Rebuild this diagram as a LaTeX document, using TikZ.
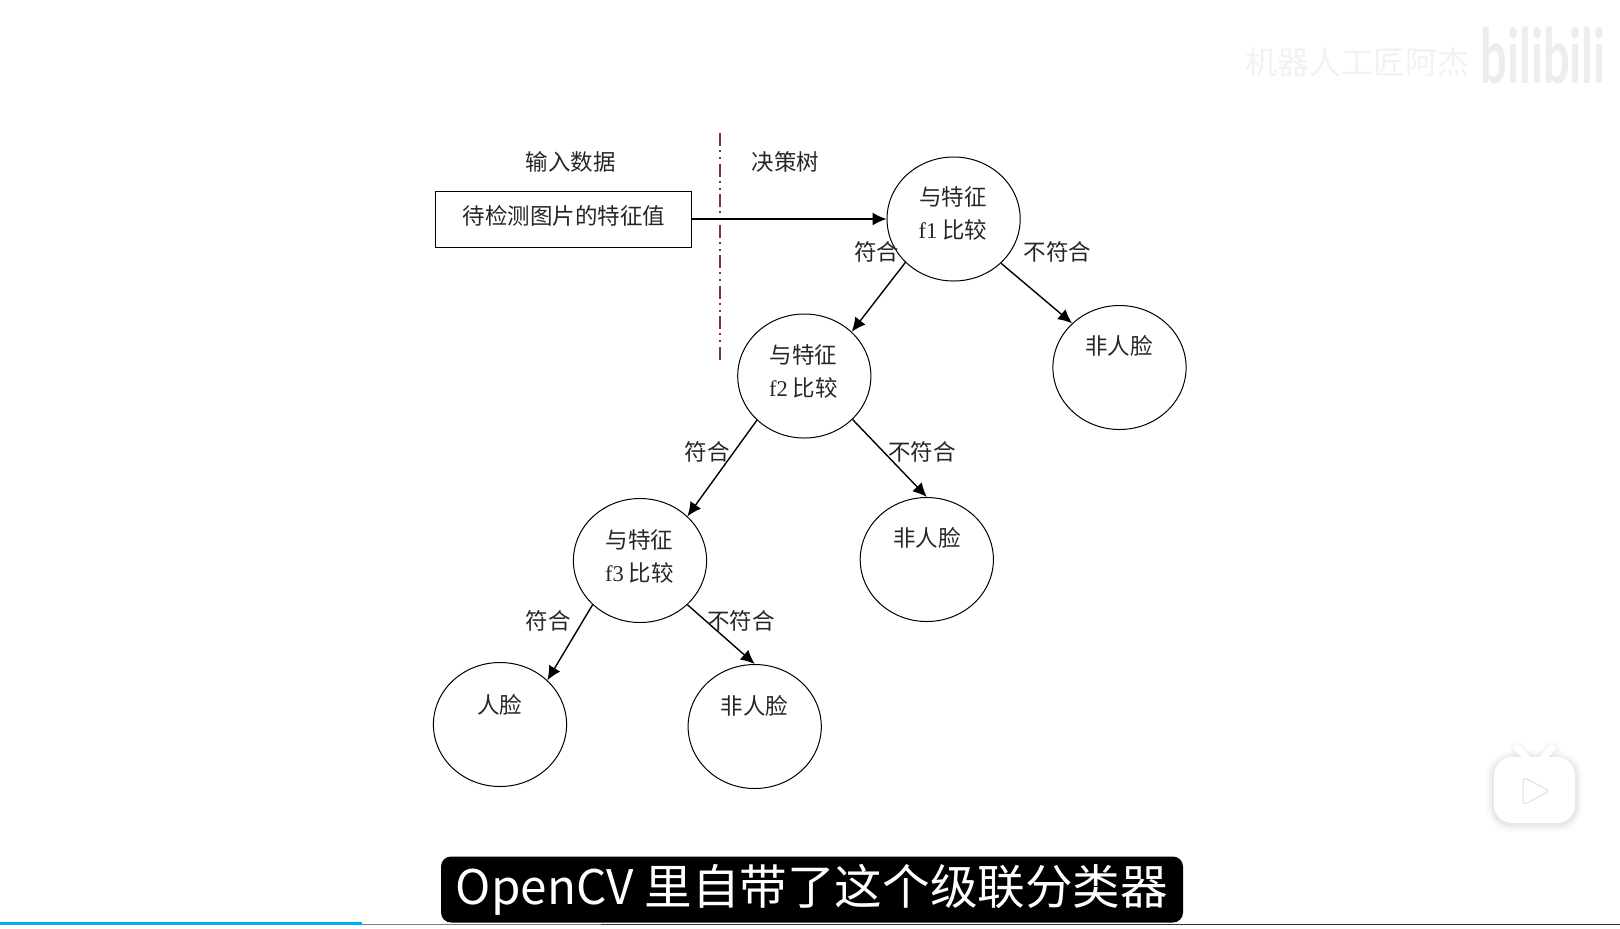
\documentclass[tikz,border=0pt]{standalone}
\usepackage{fontspec}
\setmainfont{Noto Sans CJK SC}
\newfontfamily\latfont{Liberation Serif}
\newfontfamily\logofont{Lato}
\usetikzlibrary{arrows.meta, shapes.geometric, calc}
\definecolor{sepred}{RGB}{125, 50, 65}
\definecolor{barblue}{RGB}{0, 174, 236}

\begin{document}
\begin{tikzpicture}[
  x=0.5pt, y=-0.5pt,
  font=\fontsize{11.25pt}{16.5pt}\selectfont,
  txt/.style={align=center, inner sep=0pt, text=black!85},
  circ/.style={draw, ellipse, line width=0.5pt, minimum width=66.6pt, minimum height=62pt, inner sep=0pt},
  box/.style={draw, line width=0.5pt, minimum width=128pt, minimum height=28pt, inner sep=0pt},
  arrow/.style={-{Latex[length=7pt,width=6.5pt]}, line width=0.7pt},
  subtitle/.style={fill=black, rounded corners=5pt, text=white, minimum width=371pt, minimum height=33pt,
    inner sep=0pt, font=\fontsize{23.8pt}{30pt}\selectfont}
]
\useasboundingbox (0,0) rectangle (1620,928);
\fill[white] (0,0) rectangle (1620,928);

\node[box] (input) at (563.5,219) {};
\node[txt] (inputt) at (564,216) {待检测图片的特征值};
\node[txt] (inhead) at (570.5,162) {输入数据};
\node[txt] (treehead) at (785.5,162) {决策树};

\coordinate (septop) at (720,133);
\coordinate (sepend) at (720,360);
\draw[sepred, line width=0.8pt, dash pattern=on 6.5pt off 2.1pt on 1pt off 2.55pt on 1pt off 2.1pt] (septop) -- (sepend);

\node[circ] (f1) at (953.6,219) {};
\node[circ] (f2) at (804.3,376) {};
\node[circ] (f3) at (640,560.5) {};
\node[circ] (nf1) at (1119.5,367.5) {};
\node[circ] (nf2) at (926.8,559.5) {};
\node[circ] (nf3) at (754.7,726.5) {};
\node[circ] (face) at (500,724.5) {};

\node[txt] (f1t) at (953,213.5) {与特征\\{\latfont f1} 比较};
\node[txt] (f2t) at (803.5,371) {与特征\\{\latfont f2} 比较};
\node[txt] (f3t) at (639.5,556.5) {与特征\\{\latfont f3} 比较};
\node[txt] (nf1t) at (1119,346) {非人脸};
\node[txt] (nf2t) at (927,538) {非人脸};
\node[txt] (nf3t) at (754.5,705.7) {非人脸};
\node[txt] (facet) at (499.5,704.6) {人脸};

\draw[arrow] (input.east) -- (f1.west);
\draw[arrow] (f1.222) -- (f2.43);
\draw[arrow] (f1.-43) -- (nf1.137);
\draw[arrow] (f2.223) -- (f3.43);
\draw[arrow] (f2.-42) -- (nf2.north);
\draw[arrow] (f3.223) -- (face.43);
\draw[arrow] (f3.-43) -- (nf3.north);

\node[txt] (yes1) at (876.5,252) {符合};
\node[txt] (no1) at (1057.5,252) {不符合};
\node[txt] (yes2) at (707,452) {符合};
\node[txt] (no2) at (922,452) {不符合};
\node[txt] (yes3) at (548,621) {符合};
\node[txt] (no3) at (741,621) {不符合};

\node[txt, text=black!5, font=\fontsize{16pt}{18pt}\selectfont] (uploader) at (1357,62) {机器人工匠阿杰};
\node[txt, text=black!7, xscale=0.62, font=\fontsize{38pt}{40pt}\logofont\bfseries] (logo) at (1543,56) {bilibili};

\foreach \w/\o in {8/0.02, 5/0.03, 2.5/0.04} {
  \draw[black, opacity=\o, line width=\w pt, rounded corners=9pt] (1494,759) rectangle (1575,824);
  \draw[black, opacity=\o, line width=\w pt, line cap=round] (1517,749) -- (1527,759);
  \draw[black, opacity=\o, line width=\w pt, line cap=round] (1552,749) -- (1543,759);
}
\draw[white, line width=3.5pt, line cap=round] (1517,748) -- (1527,758);
\draw[white, line width=3.5pt, line cap=round] (1552,748) -- (1543,758);
\fill[white, rounded corners=9pt] (1494,757) rectangle (1575,823);
\fill[white, draw=black!12, line width=0.5pt, rounded corners=2pt] (1523,777) -- (1550,791) -- (1523,805) -- cycle;

\fill[black!80] (362,923.5) rectangle (1620,925);
\fill[black!50] (362,923.5) rectangle (601,925);
\fill[barblue] (0,922) rectangle (362,925);
\node[subtitle] (caption) at (812,889.5) {OpenCV 里自带了这个级联分类器};
\end{tikzpicture}
\end{document}
